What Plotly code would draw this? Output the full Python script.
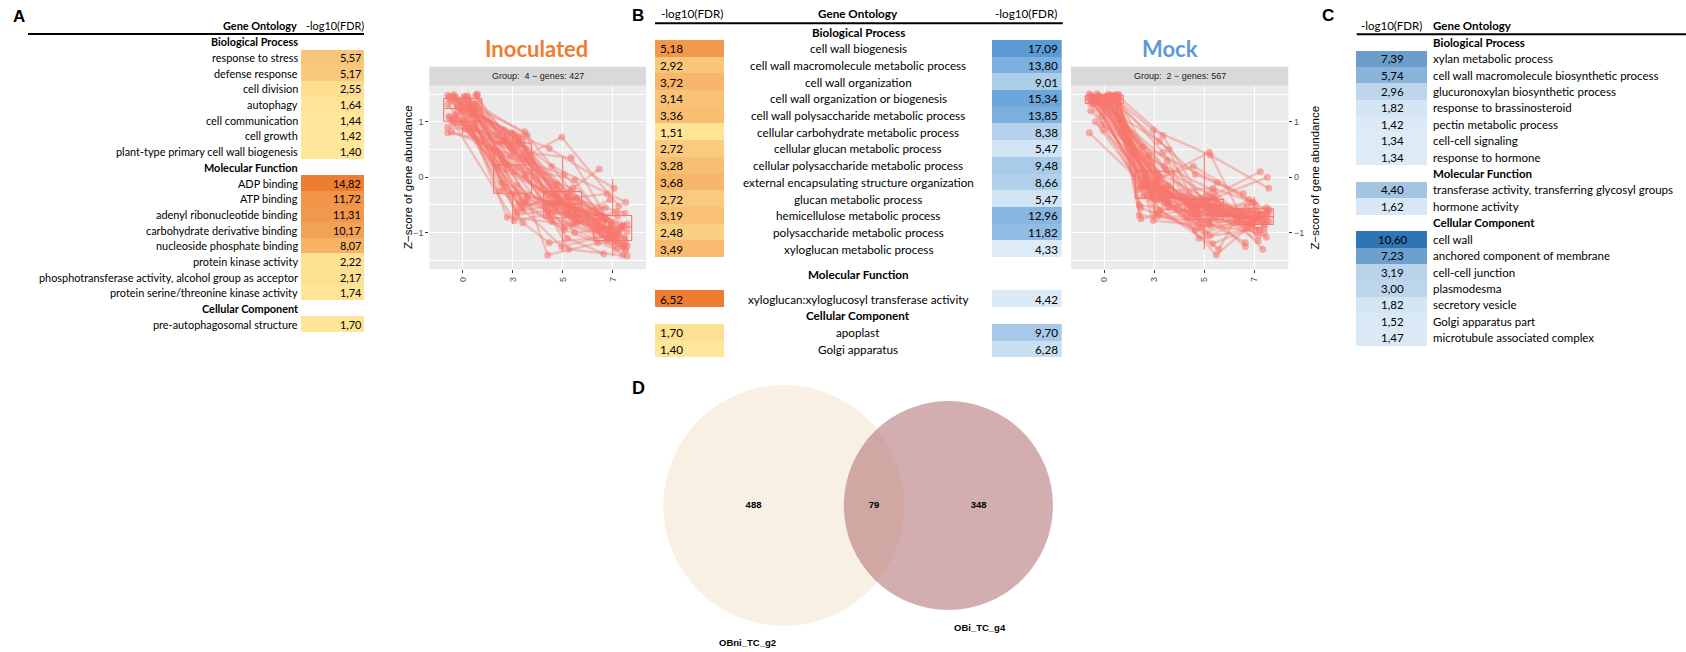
import math
import plotly.graph_objects as go

W, H = 1686, 652


def fx(px):
    return px / W


def fy(py):
    return 1 - py / H


# ---------------- GO enrichment tables ----------------
A_BP_TERMS = ["response to stress", "defense response", "cell division", "autophagy",
              "cell communication", "cell growth", "plant-type primary cell wall biogenesis"]
A_BP_VALS = [5.57, 5.17, 2.55, 1.64, 1.44, 1.42, 1.40]
A_MF_TERMS = ["ADP binding", "ATP binding", "adenyl ribonucleotide binding",
              "carbohydrate derivative binding", "nucleoside phosphate binding",
              "protein kinase activity", "phosphotransferase activity, alcohol group as acceptor",
              "protein serine/threonine kinase activity"]
A_MF_VALS = [14.82, 11.72, 11.31, 10.17, 8.07, 2.22, 2.17, 1.74]
A_CC_TERMS = ["pre-autophagosomal structure"]
A_CC_VALS = [1.70]

B_BP_TERMS = ["cell wall biogenesis", "cell wall macromolecule metabolic process",
              "cell wall organization", "cell wall organization or biogenesis",
              "cell wall polysaccharide metabolic process", "cellular carbohydrate metabolic process",
              "cellular glucan metabolic process", "cellular polysaccharide metabolic process",
              "external encapsulating structure organization", "glucan metabolic process",
              "hemicellulose metabolic process", "polysaccharide metabolic process",
              "xyloglucan metabolic process"]
B_BP_INOC = [5.18, 2.92, 3.72, 3.14, 3.36, 1.51, 2.72, 3.28, 3.68, 2.72, 3.19, 2.48, 3.49]
B_BP_MOCK = [17.09, 13.80, 9.01, 15.34, 13.85, 8.38, 5.47, 9.48, 8.66, 5.47, 12.96, 11.82, 4.33]
B_MF_TERMS = ["xyloglucan:xyloglucosyl transferase activity"]
B_MF_INOC = [6.52]
B_MF_MOCK = [4.42]
B_CC_TERMS = ["apoplast", "Golgi apparatus"]
B_CC_INOC = [1.70, 1.40]
B_CC_MOCK = [9.70, 6.28]

C_BP_TERMS = ["xylan metabolic process", "cell wall macromolecule biosynthetic process",
              "glucuronoxylan biosynthetic process", "response to brassinosteroid",
              "pectin metabolic process", "cell-cell signaling", "response to hormone"]
C_BP_VALS = [7.39, 5.74, 2.96, 1.82, 1.42, 1.34, 1.34]
C_MF_TERMS = ["transferase activity, transferring glycosyl groups", "hormone activity"]
C_MF_VALS = [4.40, 1.62]
C_CC_TERMS = ["cell wall", "anchored component of membrane", "cell-cell junction", "plasmodesma",
              "secretory vesicle", "Golgi apparatus part", "microtubule associated complex"]
C_CC_VALS = [10.60, 7.23, 3.19, 3.00, 1.82, 1.52, 1.47]

# ---------------- expression clusters (z-scores at 0, 3, 5, 7) ----------------
TIMES = ["0", "3", "5", "7"]
INOC_T0 = [1.45, 1.38, 1.22, 1.05, 1.48, 0.95, 1.30, 1.12, 1.40, 0.85, 1.25, 1.02, 1.47, 1.35, 1.18, 0.92,
           1.42, 1.10, 1.28, 1.00, 1.44, 0.80, 1.33, 1.20, 1.08, 1.46, 1.15, 0.98, 1.37, 1.26, 1.50, 1.05,
           1.32, 0.88, 1.41, 1.17, 1.23, 1.49, 0.90, 1.36, 1.12, 1.43, 1.02, 1.29, 1.39, 0.82, 1.21, 1.47,
           1.34, 1.19, 1.44, 1.07, 1.27, 1.48, 0.97, 1.31, 1.40, 1.14, 1.46, 1.24]
INOC_T3 = [0.78, 0.62, 0.55, 0.41, 0.70, 0.32, -0.30, -0.45, -0.62, -0.25, 0.15, 0.05, 0.85, 0.48, 0.66, -0.55,
           0.25, -0.78, 0.72, 0.38, -0.10, 0.58, -0.38, 0.80, 0.45, -0.68, 0.62, 0.22, 0.52, -0.20, 0.75, -0.50,
           0.35, 0.68, 0.10, -0.82, 0.60, 0.28, 0.74, -0.35, 0.50, 0.82, -0.15, 0.42, -0.72, 0.30, 0.65, 0.18,
           0.58, -0.42, 0.70, 0.46, -0.60, 0.64, 0.36, -0.28, 0.76, 0.54, -0.48, 0.68]
INOC_T5 = [-0.35, -0.48, -0.22, -0.60, -0.15, -0.70, -0.50, -0.75, -0.30, -0.95, -0.55, -0.42, 0.20, -1.10, -0.82, -1.25,
           -0.05, -0.62, 0.52, -0.35, -0.68, -0.48, -1.40, -0.28, 0.35, -0.58, -0.90, -0.20, -0.45, -0.80, -0.65, -0.38,
           0.72, -1.00, -0.52, -1.18, -0.12, -0.72, -0.32, -0.62, -1.30, -0.25, -0.55, 0.05, -0.85, -0.40, -0.70, -0.48,
           -0.58, -0.44, -0.36, -0.66, -0.52, -0.30, -0.78, -0.46, -0.60, -0.40, -0.54, -0.32]
INOC_T7 = [-0.95, -1.12, -0.88, -1.05, -0.72, -1.20, -0.85, -1.02, -0.65, -1.30, -0.92, -1.15, -0.45, -1.38, -0.78, -1.00,
           -1.22, -0.55, -0.20, -1.40, -0.95, -0.68, -1.10, -0.98, -0.88, -1.28, -0.62, 0.15, -1.08, -1.32, -0.80, -1.18,
           -0.52, -0.90, -0.75, -1.05, -1.25, -0.40, -1.00, -0.70, -1.42, -0.85, -1.12, -0.98, -0.60, -0.30, -1.20, -0.90,
           -0.82, -1.06, -0.94, -0.76, -1.16, -0.88, -1.02, -0.70, -0.96, -1.24, -0.84, -1.08]

MOCK_T0 = [1.48, 1.42, 1.45, 1.38, 1.50, 1.35, 1.46, 1.40, 1.30, 1.47, 1.10, 1.44, 1.37, 1.49, 0.85, 1.41,
           1.43, 1.33, 1.48, 1.39, 1.00, 1.45, 1.36, 1.42, 1.50, 1.31, 1.46, 0.95, 1.44, 1.40, 1.47, 1.34,
           1.49, 1.38, 1.20, 1.43, 1.45, 1.36, 0.80, 1.41, 1.48, 1.35, 1.46, 1.39, 1.44, 1.32, 1.47, 1.40,
           1.43, 1.37, 1.49, 1.41, 1.46, 1.34, 1.45, 1.39, 1.48, 1.42, 1.36, 1.44]
MOCK_T3 = [0.10, -0.20, -0.35, 0.55, -0.60, -0.15, 0.85, -0.42, 0.02, -0.75, -0.25, 0.30, -0.10, -0.50, -0.30, 0.45,
           -0.05, -0.65, 0.20, -0.38, -0.18, 0.65, -0.55, -0.28, 0.12, -0.70, -0.12, 0.35, -0.45, 0.00, -0.22, -0.60,
           0.75, -0.32, -0.08, -0.48, 0.25, -0.15, -0.40, 0.50, -0.78, -0.25, 0.05, -0.55, 0.40, -0.35, -0.02, -0.68,
           -0.20, -0.30, -0.12, -0.40, -0.24, -0.16, -0.34, -0.06, -0.44, -0.26, -0.18, -0.36]
MOCK_T5 = [-0.40, -0.55, -0.75, -0.10, -0.95, -0.45, 0.40, -1.20, -0.62, -0.52, -0.38, -0.80, 0.20, -0.68, -0.58, -0.42,
           -1.40, -0.30, -0.50, -0.85, -0.65, 0.05, -0.48, -1.05, -0.35, -0.72, -0.55, -0.25, -0.90, -0.60, 0.45, -1.30,
           -0.45, -0.40, -0.78, -0.62, -1.10, -0.50, -0.68, -0.30, -0.88, -0.20, -0.58, -1.00, -0.70, -0.42, -0.52, -0.82,
           -0.56, -0.48, -0.64, -0.44, -0.70, -0.52, -0.60, -0.46, -0.66, -0.54, -0.50, -0.62]
MOCK_T7 = [-0.62, -0.72, -0.85, -0.45, -0.70, -0.78, -0.20, -0.90, -0.55, -1.05, -0.65, -0.80, -0.60, -1.25, -0.75, 0.10,
           -0.68, -0.88, -0.50, -1.00, -0.72, -0.30, -0.95, -0.58, -0.82, -0.65, -1.15, -0.70, -0.40, -0.78, -0.85, -0.62,
           -0.68, -1.30, -0.52, -0.75, -0.90, -0.60, -0.70, -0.95, -0.80, -0.45, -1.08, -0.65, -0.72, -0.85, 0.00, -1.18,
           -0.74, -0.66, -0.80, -0.70, -0.62, -0.76, -0.84, -0.68, -0.72, -0.64, -0.78, -0.70]

# box summaries (q1, median, q3, whiskers) per time point
INOC_Q1 = [1.01, -0.29, -0.73, -1.14]
INOC_MED = [1.24, 0.22, -0.48, -0.90]
INOC_Q3 = [1.42, 0.62, -0.26, -0.69]
INOC_LO = [0.78, -0.85, -1.35, -1.43]
INOC_HI = [1.50, 0.85, 0.37, -0.03]
MOCK_Q1 = [1.33, -0.38, -0.76, -0.85]
MOCK_MED = [1.41, -0.18, -0.53, -0.71]
MOCK_Q3 = [1.47, 0.11, -0.40, -0.57]
MOCK_LO = [1.15, -0.78, -1.30, -1.05]
MOCK_HI = [1.50, 0.86, 0.45, -0.35]

# ---------------- Venn counts ----------------
VENN_ONLY_LEFT = 488
VENN_BOTH = 79
VENN_ONLY_RIGHT = 348
VENN_NAMES = ["OBni_TC_g2", "OBi_TC_g4"]

# horizontal jitter pattern for the points of each gene
JITTER = [-0.27, 0.12, -0.05, 0.24, -0.18, 0.03, 0.29, -0.11, 0.17, -0.22, 0.08, -0.30, 0.20, -0.02, 0.26, -0.15, 0.10]

SALMON = "#F8766D"
ORANGE = [[0, "#FFE699"], [1, "#ED7D31"]]
BLUE_B = [[0, "#DDEBF7"], [1, "#5B9BD5"]]
BLUE_C = [[0, "#DDEBF7"], [1, "#2E75B6"]]
TFONT = "Lato, 'Open Sans', sans-serif"
GFONT = "'Liberation Sans', Arial, sans-serif"


def fmt(v):
    return f"{v:.2f}".replace(".", ",")


def build_rows(sections, spans=None):
    spans = spans or {}
    entries, zrows, slot = [], [], 0
    for name, terms, cols in sections:
        span = spans.get(name, 1)
        entries.append((name, slot + (span - 1) / 2, None, True))
        zrows.extend([None] * span)
        slot += span
        for i, t in enumerate(terms):
            vals = [c[i] for c in cols]
            entries.append((t, slot, vals, False))
            zrows.append(vals)
            slot += 1
    return entries, zrows, slot


fig = go.Figure()
annotations = []
shapes = []
layout_axes = {}


def table_axes(idx, x0, x1, c0, step, n):
    top = c0 - step / 2
    bot = c0 + (n - 1) * step + step / 2
    layout_axes[f"xaxis{idx}"] = dict(domain=[fx(x0), fx(x1)], range=[-0.5, 0.5], visible=False,
                                      anchor=f"y{idx}", fixedrange=True)
    layout_axes[f"yaxis{idx}"] = dict(domain=[fy(bot), fy(top)], range=[n - 0.5, -0.5], visible=False,
                                      anchor=f"x{idx}", fixedrange=True)


def add_heat(idx, zrows, col, scale):
    z = [[r[col]] if r is not None else [None] for r in zrows]
    vals = [r[col] for r in zrows if r is not None]
    fig.add_trace(go.Heatmap(z=z, x=[0], y=list(range(len(zrows))), colorscale=scale,
                             zmin=min(vals), zmax=max(vals), showscale=False, hoverinfo="skip",
                             xaxis=f"x{idx}", yaxis=f"y{idx}"))


def txt(text, x, y, yref="paper", xanchor="center", size=10.5, bold=False, color="#000000",
        family=TFONT, angle=0):
    annotations.append(dict(text=f"<b>{text}</b>" if bold else text, x=x, y=y, xref="paper", yref=yref,
                            xanchor=xanchor, yanchor="middle", showarrow=False, textangle=angle,
                            font=dict(size=size, color=color, family=family)))


# ---- table A ----
SZ_A, SZ_B, SZ_C = 10.9, 11.7, 11.5
rows_a, z_a, n_a = build_rows([("Biological Process", A_BP_TERMS, [A_BP_VALS]),
                               ("Molecular Function", A_MF_TERMS, [A_MF_VALS]),
                               ("Cellular Component", A_CC_TERMS, [A_CC_VALS])])
table_axes(3, 301, 364, 41.7, 15.7, n_a)
add_heat(3, z_a, 0, ORANGE)
for label, yv, vals, hdr in rows_a:
    txt(label, fx(299.5), yv, yref="y3", xanchor="right", size=SZ_A, bold=hdr)
    if vals:
        txt(fmt(vals[0]), fx(363), yv, yref="y3", xanchor="right", size=SZ_A)
txt("Gene Ontology", fx(298.5), fy(25), xanchor="right", size=SZ_A, bold=True)
txt("-log10(FDR)", fx(304), fy(25), xanchor="left", size=SZ_A)
shapes.append(dict(type="line", xref="paper", yref="paper", x0=fx(28), x1=fx(364), y0=fy(34), y1=fy(34),
                   line=dict(color="#000000", width=2)))

# ---- table B ----
rows_b, z_b, n_b = build_rows([("Biological Process", B_BP_TERMS, [B_BP_INOC, B_BP_MOCK]),
                               ("Molecular Function", B_MF_TERMS, [B_MF_INOC, B_MF_MOCK]),
                               ("Cellular Component", B_CC_TERMS, [B_CC_INOC, B_CC_MOCK])],
                              spans={"Molecular Function": 2})
table_axes(4, 655, 724, 31.6, 16.69, n_b)
table_axes(5, 992, 1061.7, 31.6, 16.69, n_b)
add_heat(4, z_b, 0, ORANGE)
add_heat(5, z_b, 1, BLUE_B)
for label, yv, vals, hdr in rows_b:
    txt(label, fx(858), yv, yref="y4", xanchor="center", size=SZ_B, bold=hdr)
    if vals:
        txt(fmt(vals[0]), fx(657.5), yv, yref="y4", xanchor="left", size=SZ_B)
        txt(fmt(vals[1]), fx(1060), yv, yref="y4", xanchor="right", size=SZ_B)
txt("-log10(FDR)", fx(658.5), fy(13.3), xanchor="left", size=SZ_B)
txt("Gene Ontology", fx(858), fy(13.3), xanchor="center", size=SZ_B, bold=True)
txt("-log10(FDR)", fx(1058.5), fy(13.3), xanchor="right", size=SZ_B)
shapes.append(dict(type="line", xref="paper", yref="paper", x0=fx(655), x1=fx(1062.7), y0=fy(23.3),
                   y1=fy(23.3), line=dict(color="#000000", width=2)))

# ---- table C ----
rows_c, z_c, n_c = build_rows([("Biological Process", C_BP_TERMS, [C_BP_VALS]),
                               ("Molecular Function", C_MF_TERMS, [C_MF_VALS]),
                               ("Cellular Component", C_CC_TERMS, [C_CC_VALS])])
table_axes(6, 1356, 1427.3, 42.3, 16.41, n_c)
add_heat(6, z_c, 0, BLUE_C)
for label, yv, vals, hdr in rows_c:
    txt(label, fx(1430.7), yv, yref="y6", xanchor="left", size=SZ_C, bold=hdr)
    if vals:
        txt(fmt(vals[0]), fx(1392.5), yv, yref="y6", xanchor="center", size=SZ_C)
txt("-log10(FDR)", fx(1391.7), fy(25), xanchor="center", size=SZ_C)
txt("Gene Ontology", fx(1430.7), fy(25), xanchor="left", size=SZ_C, bold=True)
shapes.append(dict(type="line", xref="paper", yref="paper", x0=fx(1356.7), x1=fx(1686), y0=fy(34.3),
                   y1=fy(34.3), line=dict(color="#000000", width=2)))


# ---- cluster profile plots ----
def profile(xa, ya, series, q1, med, q3, lo, hi):
    fig.add_trace(go.Box(x=[1, 2, 3, 4], q1=q1, median=med, q3=q3, lowerfence=lo, upperfence=hi,
                         fillcolor="rgba(0,0,0,0)", line=dict(color=SALMON, width=1.1), width=0.76,
                         whiskerwidth=0, boxpoints=False, hoverinfo="skip", xaxis=xa, yaxis=ya))
    lx, ly, px, py = [], [], [], []
    n = len(series[0])
    for g in range(n):
        for t in range(4):
            xv = t + 1 + JITTER[(g * 7 + t * 5) % len(JITTER)]
            lx.append(xv)
            ly.append(series[t][g])
            px.append(xv)
            py.append(series[t][g])
        lx.append(None)
        ly.append(None)
    fig.add_trace(go.Scatter(x=lx, y=ly, mode="lines", line=dict(color="rgba(248,118,109,0.38)", width=2.5),
                             hoverinfo="skip", xaxis=xa, yaxis=ya))
    fig.add_trace(go.Scatter(x=px, y=py, mode="markers",
                             marker=dict(size=7, color="rgba(248,118,109,0.55)", line=dict(width=0)),
                             hoverinfo="skip", xaxis=xa, yaxis=ya))


profile("x", "y", [INOC_T0, INOC_T3, INOC_T5, INOC_T7], INOC_Q1, INOC_MED, INOC_Q3, INOC_LO, INOC_HI)
profile("x2", "y2", [MOCK_T0, MOCK_T3, MOCK_T5, MOCK_T7], MOCK_Q1, MOCK_MED, MOCK_Q3, MOCK_LO, MOCK_HI)

tickfont = dict(family=GFONT, size=9, color="#4D4D4D")


def prof_axes(xkey, ykey, xd, xr, side):
    a = xkey.replace("axis", "")
    b = ykey.replace("axis", "")
    layout_axes[xkey] = dict(domain=xd, range=xr, anchor=b, tickvals=[1, 2, 3, 4], ticktext=TIMES,
                             tickangle=-90, ticks="outside", ticklen=3, tickcolor="#333333", tickwidth=1,
                             showgrid=True, gridcolor="#FFFFFF", gridwidth=1.1, zeroline=False,
                             showline=False, tickfont=tickfont, fixedrange=True)
    layout_axes[ykey] = dict(domain=[fy(269.3), fy(85.7)], range=[-1.66, 1.65], anchor=a, side=side,
                             tickvals=[-1, 0, 1], ticks="outside", ticklen=3, tickcolor="#333333",
                             tickwidth=1, showgrid=True, gridcolor="#FFFFFF", gridwidth=1.1,
                             minor=dict(tickvals=[-1.5, -0.5, 0.5, 1.5], showgrid=True,
                                        gridcolor="#FFFFFF", gridwidth=0.5, ticks=""),
                             zeroline=False, showline=False, tickfont=tickfont, fixedrange=True)


prof_axes("xaxis", "yaxis", [fx(429.3), fx(646)], [0.332, 4.666], "left")
prof_axes("xaxis2", "yaxis2", [fx(1071), fx(1288.3)], [0.334, 4.68], "right")

for xref, yref, x0, x1, grp in [("x", "y", 429.3, 646, "Group:  4 \u2212 genes: 427"),
                                ("x2", "y2", 1071, 1288.3, "Group:  2 \u2212 genes: 567")]:
    shapes.append(dict(type="rect", xref=f"{xref} domain", yref=f"{yref} domain", x0=0, x1=1, y0=0, y1=1,
                       fillcolor="#EBEBEB", line=dict(width=0), layer="below"))
    shapes.append(dict(type="rect", xref="paper", yref="paper", x0=fx(x0), x1=fx(x1), y0=fy(85.7),
                       y1=fy(66.7), fillcolor="#D9D9D9", line=dict(width=0), layer="below"))
    txt(grp, fx((x0 + x1) / 2), fy(76.3), size=9, color="#1A1A1A", family=GFONT)

txt("Inoculated", fx(536), fy(48.5), size=22, bold=True, color="#ED7D31")
txt("Mock", fx(1170), fy(48.5), size=22, bold=True, color="#5B9BD5")
txt("Z\u2212score of gene abundance", fx(407.5), fy(177.5), size=11.5, family=GFONT, angle=-90)
txt("Z\u2212score of gene abundance", fx(1314), fy(177.5), size=11.5, family=GFONT, angle=-90)

# ---- Venn diagram (areas proportional to set sizes) ----
n_left = VENN_ONLY_LEFT + VENN_BOTH
n_right = VENN_ONLY_RIGHT + VENN_BOTH
r1 = math.sqrt(n_left / math.pi)
r2 = math.sqrt(n_right / math.pi)


def lens_area(d):
    a1 = math.acos((d * d + r1 * r1 - r2 * r2) / (2 * d * r1))
    a2 = math.acos((d * d + r2 * r2 - r1 * r1) / (2 * d * r2))
    k = (-d + r1 + r2) * (d + r1 - r2) * (d - r1 + r2) * (d + r1 + r2)
    return r1 * r1 * a1 + r2 * r2 * a2 - 0.5 * math.sqrt(k)


lo_d, hi_d = abs(r1 - r2) + 1e-9, r1 + r2 - 1e-9
for _ in range(80):
    mid = (lo_d + hi_d) / 2
    if lens_area(mid) > VENN_BOTH:
        lo_d = mid
    else:
        hi_d = mid
d = (lo_d + hi_d) / 2

S = 8.97  # pixels per unit
cx_px, cy_px = 783.8, 505.5
layout_axes["xaxis7"] = dict(domain=[fx(600), fx(1200)], range=[(600 - cx_px) / S, (1200 - cx_px) / S],
                             visible=False, anchor="y7", fixedrange=True)
layout_axes["yaxis7"] = dict(domain=[fy(652), fy(370)], range=[-(652 - cy_px) / S, (cy_px - 370) / S],
                             visible=False, anchor="x7", fixedrange=True)
shapes.append(dict(type="circle", xref="x7", yref="y7", x0=-r1, x1=r1, y0=-r1, y1=r1,
                   fillcolor="rgba(241,225,199,0.5)", line=dict(width=0), layer="below"))
shapes.append(dict(type="circle", xref="x7", yref="y7", x0=d - r2, x1=d + r2, y0=-r2, y1=r2,
                   fillcolor="rgba(167,93,99,0.5)", line=dict(width=0), layer="below"))
fig.add_trace(go.Scatter(
    x=[(-r1 + d - r2) / 2, (d - r2 + r1) / 2, (r1 + d + r2) / 2], y=[0, 0, 0], mode="text",
    text=[str(VENN_ONLY_LEFT), str(VENN_BOTH), str(VENN_ONLY_RIGHT)],
    textfont=dict(family=GFONT, size=9.5, color="#000000", weight="bold"),
    hoverinfo="skip", xaxis="x7", yaxis="y7"))
for name, cx, r, ang in [(VENN_NAMES[0], 0.0, r1, 194.7), (VENN_NAMES[1], d, r2, 165.7)]:
    dist = r + 2.4
    annotations.append(dict(text=f"<b>{name}</b>", x=cx + dist * math.sin(math.radians(ang)),
                            y=dist * math.cos(math.radians(ang)), xref="x7", yref="y7", showarrow=False,
                            xanchor="center", yanchor="middle",
                            font=dict(family=GFONT, size=9.5, color="#000000")))

# ---- panel letters ----
for letter, x, y, sz in [("A", 19.3, 16.2, 17), ("B", 638.3, 15.5, 17), ("C", 1328.3, 15.7, 17),
                         ("D", 638.3, 388.5, 18)]:
    txt(letter, fx(x), fy(y), size=sz, bold=True, family=GFONT)

fig.update_layout(width=W, height=H, margin=dict(l=0, r=0, t=0, b=0), paper_bgcolor="#FFFFFF",
                  plot_bgcolor="rgba(0,0,0,0)", showlegend=False, annotations=annotations, shapes=shapes,
                  **layout_axes)
fig.write_html("out.html")
